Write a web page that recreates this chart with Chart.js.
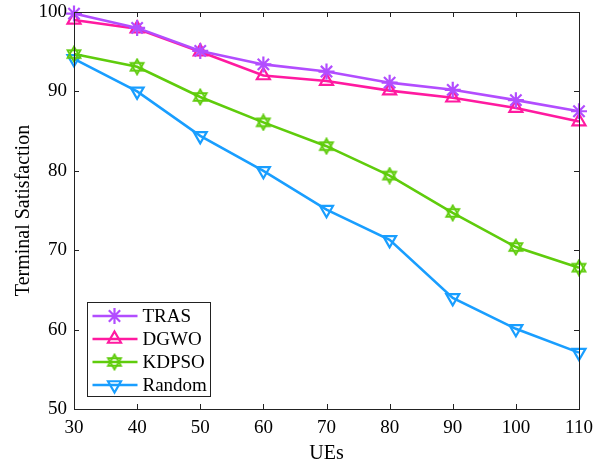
<!DOCTYPE html>
<html>
<head>
<meta charset="utf-8">
<script src="https://cdn.jsdelivr.net/npm/chart.js@4"></script>
<style>
  html, body { margin: 0; padding: 0; background: #fff; }
  #wrap { width: 606px; height: 466px; }
</style>
</head>
<body>
<div id="wrap"><canvas id="chart" width="606" height="466"></canvas></div>
<script>
const ues = [30, 40, 50, 60, 70, 80, 90, 100, 110];
const tras = [99.8, 98.0, 95.1, 93.4, 92.5, 91.1, 90.2, 88.9, 87.5];
const dgwo = [99.0, 97.9, 95.0, 92.0, 91.3, 90.1, 89.2, 87.9, 86.2];
const kdpso = [94.7, 93.1, 89.3, 86.1, 83.1, 79.4, 74.7, 70.4, 67.8];
const random = [94.1, 90.0, 84.4, 80.0, 75.1, 71.3, 64.0, 60.1, 57.1];
const yTicks = [50, 60, 70, 80, 90, 100];

const FONT = 'Liberation Serif, Times New Roman, serif';

// hexagram marker (two triangles), like matlab 'h'
function hexagram(color) {
  const c = document.createElement('canvas');
  c.width = 18; c.height = 18;
  const g = c.getContext('2d');
  g.strokeStyle = color;
  g.lineWidth = 1.8;
  g.lineJoin = 'miter';
  const r = 7.5, cx = 9, cy = 9;
  for (let k = 0; k < 2; k++) {
    g.beginPath();
    for (let i = 0; i < 3; i++) {
      const a = -Math.PI / 2 + k * Math.PI + i * 2 * Math.PI / 3;
      const px = cx + r * Math.cos(a), py = cy + r * Math.sin(a);
      if (i === 0) g.moveTo(px, py); else g.lineTo(px, py);
    }
    g.closePath();
    g.stroke();
  }
  return c;
}

function series(label, data, color, style, rot, radius) {
  return {
    label: label,
    data: data,
    borderColor: color,
    backgroundColor: 'rgba(0,0,0,0)',
    borderWidth: 2.6,
    pointStyle: style,
    pointRotation: rot,
    pointRadius: radius,
    pointHoverRadius: radius,
    pointBorderWidth: 2.2,
    pointBorderColor: color,
    pointBackgroundColor: 'rgba(0,0,0,0)',
    tension: 0,
    clip: false
  };
}

const frame = {
  id: 'frame',
  afterDraw(chart) {
    const { ctx, chartArea: a, scales } = chart;
    ctx.save();
    ctx.strokeStyle = '#222';
    ctx.lineWidth = 1;
    const tl = 5;
    ctx.beginPath();
    ues.forEach(v => {
      const x = Math.round(scales.x.getPixelForValue(v)) + 0.5;
      ctx.moveTo(x, a.bottom); ctx.lineTo(x, a.bottom - tl);
      ctx.moveTo(x, a.top); ctx.lineTo(x, a.top + tl);
    });
    yTicks.forEach(v => {
      const y = Math.round(scales.y.getPixelForValue(v)) + 0.5;
      ctx.moveTo(a.left, y); ctx.lineTo(a.left + tl, y);
      ctx.moveTo(a.right, y); ctx.lineTo(a.right - tl, y);
    });
    ctx.stroke();
    ctx.strokeRect(Math.round(a.left) + 0.5, Math.round(a.top) + 0.5,
      Math.round(a.right - a.left), Math.round(a.bottom - a.top));

    // legend box, lower left inside the axes
    const bx = 87.5, by = 302.5, bw = 123, bh = 94, rowH = 23;
    ctx.fillStyle = '#fff';
    ctx.fillRect(bx, by, bw, bh);
    ctx.strokeStyle = '#222';
    ctx.strokeRect(bx, by, bw, bh);
    ctx.font = '19px ' + FONT;
    ctx.textBaseline = 'middle';
    ctx.textAlign = 'left';
    chart.data.datasets.forEach((ds, i) => {
      const y = by + 13.5 + i * rowH;
      ctx.strokeStyle = ds.borderColor;
      ctx.lineWidth = ds.borderWidth;
      ctx.beginPath();
      ctx.moveTo(bx + 5, y); ctx.lineTo(bx + 50, y);
      ctx.stroke();
      ctx.lineWidth = ds.pointBorderWidth;
      ctx.fillStyle = 'rgba(0,0,0,0)';
      Chart.helpers.drawPoint(ctx, {
        pointStyle: ds.pointStyle, rotation: ds.pointRotation,
        radius: ds.pointRadius, borderWidth: ds.pointBorderWidth
      }, bx + 27, y);
      ctx.fillStyle = '#000';
      ctx.fillText(ds.label, bx + 55, y + 1);
    });
    ctx.restore();
  }
};

new Chart(document.getElementById('chart'), {
  type: 'line',
  data: {
    labels: ues,
    datasets: [
      series('TRAS', tras, '#b24dff', 'star', 0, 8),
      series('DGWO', dgwo, '#ff1aa0', 'triangle', 0, 7.5),
      series('KDPSO', kdpso, '#5fcc0c', hexagram('#5fcc0c'), 0, 8),
      series('Random', random, '#199eff', 'triangle', 180, 7.5)
    ]
  },
  options: {
    responsive: false,
    animation: false,
    layout: { padding: { top: 12, right: 27, left: 0, bottom: 0 } },
    plugins: { legend: { display: false }, tooltip: { enabled: false } },
    scales: {
      x: {
        type: 'linear',
        min: 30, max: 110,
        afterBuildTicks: s => { s.ticks = ues.map(v => ({ value: v })); },
        afterFit: s => { s.height = 57; s.paddingLeft = 0; s.paddingRight = 0; },
        grid: { display: false, drawTicks: false },
        border: { display: false },
        ticks: { color: '#000', font: { family: FONT, size: 19 }, padding: 8, maxRotation: 0, autoSkip: false },
        title: { display: true, text: 'UEs', color: '#000', font: { family: FONT, size: 20 }, padding: { top: 0, bottom: 0 } }
      },
      y: {
        min: 50, max: 100,
        afterBuildTicks: s => { s.ticks = yTicks.map(v => ({ value: v })); },
        afterFit: s => { s.width = 74; s.paddingTop = 0; s.paddingBottom = 0; },
        grid: { display: false, drawTicks: false },
        border: { display: false },
        ticks: { color: '#000', font: { family: FONT, size: 19 }, padding: 7 },
        title: { display: true, text: 'Terminal Satisfaction', color: '#000', font: { family: FONT, size: 20 }, padding: { top: 12, bottom: 0 } }
      }
    }
  },
  plugins: [frame]
});
</script>
</body>
</html>
